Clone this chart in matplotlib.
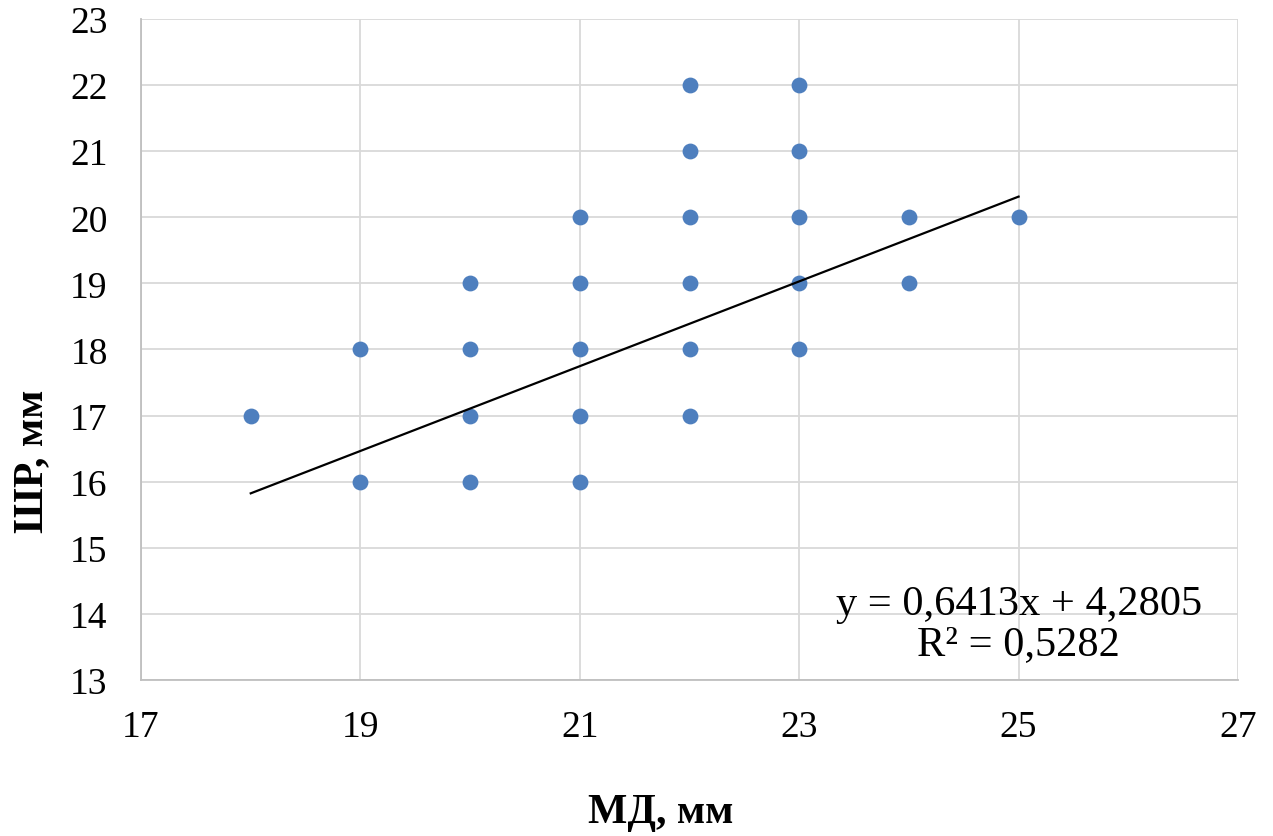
import matplotlib.pyplot as plt

# data (МД vs ШР, mm)
md = [18, 19, 19, 20, 20, 20, 20, 21, 21, 21, 21, 21,
      22, 22, 22, 22, 22, 22, 23, 23, 23, 23, 23, 24, 24, 25]
shr = [17, 18, 16, 19, 18, 17, 16, 20, 19, 18, 17, 16,
       22, 21, 20, 19, 18, 17, 22, 21, 20, 19, 18, 20, 19, 20]

# trendline from the chart's equation
slope = 0.6413
intercept = 4.2805
r2 = 0.5282

plt.rcParams['font.family'] = ['Liberation Serif', 'DejaVu Serif']

fig = plt.figure(figsize=(12.73, 8.37), dpi=100)
ax = fig.add_axes([0.1108, 0.1864, 0.8617, 0.7897])

ax.scatter(md, shr, s=130, color='#4E7FBE', zorder=3, linewidths=0)

x_fit = [min(md), max(md)]
y_fit = [slope * v + intercept for v in x_fit]
ax.plot(x_fit, y_fit, color='black', linewidth=1.6, zorder=4)

ax.set_xlim(17, 27)
ax.set_ylim(13, 23)
ax.set_xticks(range(17, 28, 2))
ax.set_yticks(range(13, 24))
ax.grid(True, color='#D9D9D9', linewidth=1.3, zorder=0)
ax.set_axisbelow(True)

for side in ['top', 'right']:
    ax.spines[side].set_visible(False)
for side in ['left', 'bottom']:
    ax.spines[side].set_color('#BFBFBF')
    ax.spines[side].set_linewidth(1.3)

ax.tick_params(length=0, labelsize=27)
ax.tick_params(axis='y', pad=24)
ax.tick_params(axis='x', pad=21)

# axis titles placed like in the original chart
fig.text(661 / 1273, 1 - 813 / 837, 'МД, мм', fontsize=30, fontweight='bold',
         ha='center', va='center')
fig.text(32 / 1273, 1 - 461 / 837, 'ШР, мм', fontsize=30, fontweight='bold',
         ha='center', va='center', rotation=90)

eq = f'y = {slope:.4f}x + {intercept:.4f}'.replace('.', ',')
r2_txt = f'R² = {r2:.4f}'.replace('.', ',')
ax.text(25.0, 13.85, eq + '\n' + r2_txt, fontsize=30.5, ha='center', va='center',
        linespacing=1.05)

fig.savefig('out.png', dpi=100)
